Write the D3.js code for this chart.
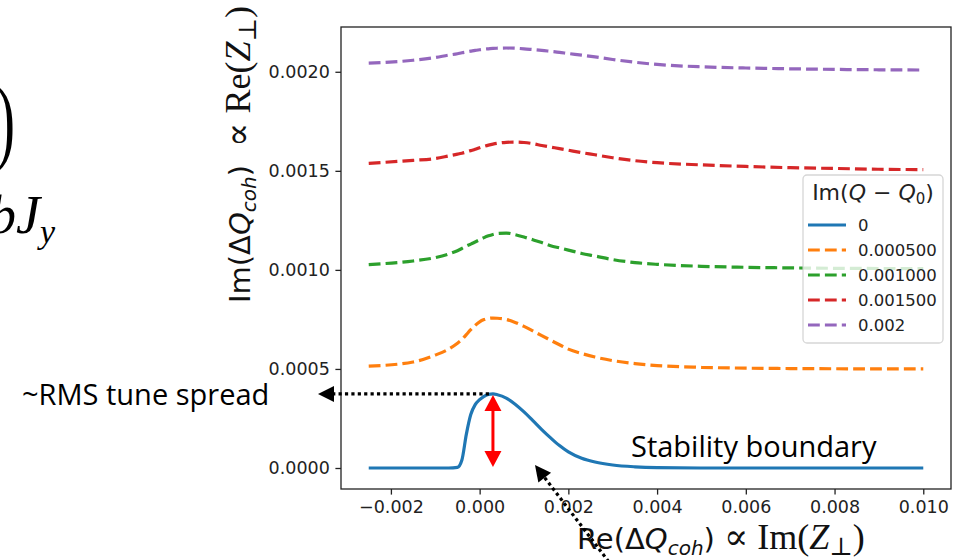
<!DOCTYPE html>
<html>
<head>
<meta charset="utf-8">
<script src="https://cdn.jsdelivr.net/npm/d3@7"></script>
<style>
  html, body { margin: 0; padding: 0; background: #fff; overflow: hidden; }
  svg { display: block; }
</style>
</head>
<body>
<svg id="chart" width="961" height="560"></svg>
<script>
// Re(ΔQ_coh) sample points shared by all curves
const reDQ = [-0.0025, -0.0015, -0.0010, -0.0007, -0.0005, -0.0004, -0.0003, -0.0002, -0.0001,
  0.0000, 0.0001, 0.0002, 0.0003, 0.0004, 0.0006, 0.0008, 0.0010, 0.0012, 0.0014, 0.0016,
  0.0018, 0.0020, 0.0023, 0.0026, 0.0030, 0.0035, 0.0040, 0.0050, 0.0060, 0.0070,
  0.0080, 0.0090, 0.0100];

// Im(ΔQ_coh) for each Im(Q - Q0)
const im0 = [0, 0, 0, 0, 0.000003, 0.00004, 0.00017, 0.00027, 0.00032,
  0.000345, 0.000362, 0.000372, 0.000374, 0.00037, 0.000353, 0.000322, 0.000283, 0.000239, 0.000194, 0.000152,
  0.000113, 0.000081, 0.000049, 0.00003, 0.000015, 0.000006, 0.000002, 0, 0, 0,
  0, 0, 0];
const im0005 = [0.000514, 0.000535, 0.00057, 0.0006, 0.00063, 0.000648, 0.000673, 0.000698, 0.00072,
  0.000738, 0.000749, 0.000755, 0.000757, 0.000756, 0.00075, 0.000735, 0.000715, 0.000692, 0.000668, 0.000645,
  0.000622, 0.0006, 0.000578, 0.00056, 0.000542, 0.000527, 0.000517, 0.000508, 0.000504, 0.000502,
  0.000501, 0.0005, 0.0005];
const im0010 = [0.001027, 0.001045, 0.001062, 0.00108, 0.001097, 0.001108, 0.00112, 0.00113, 0.001141,
  0.001152, 0.001163, 0.001172, 0.001179, 0.001184, 0.001186, 0.001178, 0.001166, 0.001152, 0.001138, 0.001122,
  0.001111, 0.0011, 0.001083, 0.00107, 0.001052, 0.001037, 0.001028, 0.001018, 0.001013, 0.00101,
  0.001008, 0.001007, 0.001006];
const im0015 = [0.001538, 0.001553, 0.001562, 0.001575, 0.001584, 0.001589, 0.001595, 0.001602, 0.001609,
  0.001617, 0.001624, 0.00163, 0.001635, 0.001639, 0.001644, 0.001645, 0.001643, 0.001637, 0.001628, 0.00162,
  0.001612, 0.001604, 0.001592, 0.001581, 0.001566, 0.001551, 0.001541, 0.00153, 0.001522, 0.001516,
  0.001512, 0.001508, 0.001506];
const im0020 = [0.002044, 0.002058, 0.002072, 0.002084, 0.002091, 0.002096, 0.0021, 0.002104, 0.002108,
  0.002111, 0.002114, 0.002116, 0.002118, 0.002119, 0.00212, 0.002119, 0.002116, 0.002112, 0.002108, 0.002103,
  0.002098, 0.002092, 0.002084, 0.002075, 0.002062, 0.002048, 0.002037, 0.002025, 0.002019, 0.002015,
  0.002012, 0.00201, 0.002009];

const seriesLabels = ["0", "0.000500", "0.001000", "0.001500", "0.002"];
const seriesValues = [im0, im0005, im0010, im0015, im0020];
const seriesColors = ["#1f77b4", "#ff7f0e", "#2ca02c", "#d62728", "#9467bd"];

const xTicks = [-0.002, 0.000, 0.002, 0.004, 0.006, 0.008, 0.010];
const yTicks = [0.0000, 0.0005, 0.0010, 0.0015, 0.0020];

const svg = d3.select("#chart");
const plot = { left: 341, right: 951, top: 27, bottom: 489 };

// autoscale with 5% margins, like the plotting default
const xExt = d3.extent(reDQ);
const xPad = (xExt[1] - xExt[0]) * 0.05;
const yMin = d3.min(seriesValues, s => d3.min(s));
const yMax = d3.max(seriesValues, s => d3.max(s));
const yPad = (yMax - yMin) * 0.05;

const x = d3.scaleLinear().domain([xExt[0] - xPad, xExt[1] + xPad]).range([plot.left, plot.right]);
const y = d3.scaleLinear().domain([yMin - yPad, yMax + yPad]).range([plot.bottom, plot.top]);

const tickFont = "'DejaVu Sans', sans-serif";
const minus = s => s.replace("-", "\u2212");

// curves
const line = d3.line().x(d => x(d[0])).y(d => y(d[1])).curve(d3.curveMonotoneX);
const curves = svg.append("g");
seriesValues.forEach((vals, i) => {
  curves.append("path")
    .datum(reDQ.map((r, j) => [r, vals[j]]))
    .attr("d", line)
    .attr("fill", "none")
    .attr("stroke", seriesColors[i])
    .attr("stroke-width", 3.2)
    .attr("stroke-dasharray", i === 0 ? null : "11.8,5.1");
});

// axes
const xAxis = d3.axisBottom(x).tickValues(xTicks).tickFormat(d => minus(d3.format(".3f")(d)))
  .tickSizeInner(5.6).tickSizeOuter(0).tickPadding(5.6);
const yAxis = d3.axisLeft(y).tickValues(yTicks).tickFormat(d => d3.format(".4f")(d))
  .tickSizeInner(5.6).tickSizeOuter(0).tickPadding(5.6);

const gx = svg.append("g").attr("transform", `translate(0,${plot.bottom})`).call(xAxis);
const gy = svg.append("g").attr("transform", `translate(${plot.left},0)`).call(yAxis);
[gx, gy].forEach(g => {
  g.select(".domain").remove();
  g.selectAll(".tick line").attr("stroke", "#222").attr("stroke-width", 1.3);
  g.selectAll(".tick text").attr("font-family", tickFont).attr("font-size", 17.5).attr("fill", "#222");
});

// frame
svg.append("rect")
  .attr("x", plot.left).attr("y", plot.top)
  .attr("width", plot.right - plot.left).attr("height", plot.bottom - plot.top)
  .attr("fill", "none").attr("stroke", "#222").attr("stroke-width", 1.3);

// legend
const lg = svg.append("g").attr("transform", "translate(803,175)");
lg.append("rect").attr("width", 140).attr("height", 168).attr("rx", 4)
  .attr("fill", "#fff").attr("fill-opacity", 0.8)
  .attr("stroke", "#ccc").attr("stroke-opacity", 0.8).attr("stroke-width", 1.3);
const lt = lg.append("text").attr("x", 70).attr("y", 25).attr("text-anchor", "middle")
  .attr("font-family", tickFont).attr("font-size", 22).attr("fill", "#222");
lt.append("tspan").text("Im(");
lt.append("tspan").attr("font-style", "italic").text("Q");
lt.append("tspan").text(" \u2212 ");
lt.append("tspan").attr("font-style", "italic").text("Q");
lt.append("tspan").attr("font-size", 15).attr("dy", 4).text("0");
lt.append("tspan").attr("dy", -4).text(")");

seriesLabels.forEach((lab, i) => {
  const yy = 50 + i * 25;
  lg.append("line").attr("x1", 5).attr("x2", 43).attr("y1", yy).attr("y2", yy)
    .attr("stroke", seriesColors[i]).attr("stroke-width", 3.2)
    .attr("stroke-dasharray", i === 0 ? null : "11.8,5.1");
  lg.append("text").attr("x", 55).attr("y", yy + 6)
    .attr("font-family", tickFont).attr("font-size", 16.5).attr("fill", "#222").text(lab);
});

// axis titles
const serif = "'Liberation Serif', 'DejaVu Serif', serif";
const yl = svg.append("text")
  .attr("transform", "translate(250,303) rotate(-90)")
  .attr("font-family", tickFont).attr("font-size", 29).attr("fill", "#111");
yl.append("tspan").text("Im(\u0394");
yl.append("tspan").attr("font-style", "italic").text("Q");
yl.append("tspan").attr("font-style", "italic").attr("font-size", 20).attr("dy", 6).text("coh");
yl.append("tspan").attr("dy", -6).text(")");
yl.append("tspan").attr("font-family", serif).attr("font-size", 36).text("\u2002\u221D Re(");
yl.append("tspan").attr("font-family", serif).attr("font-size", 36).attr("font-style", "italic").text("Z");
yl.append("tspan").attr("font-family", serif).attr("font-size", 25).attr("dy", 6).text("\u22A5");
yl.append("tspan").attr("font-family", serif).attr("font-size", 36).attr("dy", -6).text(")");

const xl = svg.append("text")
  .attr("x", 577).attr("y", 549)
  .attr("font-family", tickFont).attr("font-size", 29).attr("fill", "#111");
xl.append("tspan").text("Re(\u0394");
xl.append("tspan").attr("font-style", "italic").text("Q");
xl.append("tspan").attr("font-style", "italic").attr("font-size", 20).attr("dy", 6).text("coh");
xl.append("tspan").attr("dy", -6).text(")");
xl.append("tspan").attr("font-family", serif).attr("font-size", 36).text(" \u221D Im(");
xl.append("tspan").attr("font-family", serif).attr("font-size", 36).attr("font-style", "italic").text("Z");
xl.append("tspan").attr("font-family", serif).attr("font-size", 25).attr("dy", 6).text("\u22A5");
xl.append("tspan").attr("font-family", serif).attr("font-size", 36).attr("dy", -6).text(")");

// formula fragment at the left edge
svg.append("text").attr("transform", "translate(-4,152) scale(1.1,1.85)")
  .attr("font-family", serif).attr("font-size", 52).attr("fill", "#000").text(")");
const fm = svg.append("text").attr("x", -11).attr("y", 233)
  .attr("font-family", serif).attr("font-size", 54).attr("fill", "#000");
fm.append("tspan").attr("font-style", "italic").text("bJ");
fm.append("tspan").attr("font-style", "italic").attr("font-size", 34).attr("dy", 10).text("y");

// annotations
const annFont = "'Open Sans', 'Noto Sans', sans-serif";
svg.append("text").attr("x", 22).attr("y", 405)
  .attr("font-family", annFont).attr("font-size", 29).attr("fill", "#000").text("~RMS tune spread");
svg.append("text").attr("x", 631).attr("y", 457)
  .attr("font-family", annFont).attr("font-size", 29).attr("fill", "#000").text("Stability boundary");

// peak of the stability boundary
const peakIdx = d3.maxIndex(im0);
const px = x(reDQ[peakIdx]), py = y(im0[peakIdx]);
const y0 = y(0);

// horizontal dotted arrow to the spread label
const tipX = 318;
svg.append("line").attr("x1", px - 4).attr("x2", tipX + 15).attr("y1", py).attr("y2", py)
  .attr("stroke", "#000").attr("stroke-width", 3.2).attr("stroke-dasharray", "3.2,3.2");
svg.append("path").attr("d", `M${tipX},${py} L${tipX + 16},${py - 8} L${tipX + 16},${py + 8} Z`).attr("fill", "#000");

// red double arrow: height of the peak
const ra = svg.append("g").attr("fill", "#ff0000");
const rx = px;
svg.append("line").attr("x1", rx).attr("x2", rx).attr("y1", py + 12).attr("y2", y0 - 12)
  .attr("stroke", "#ff0000").attr("stroke-width", 3);
ra.append("path").attr("d", `M${rx},${py + 1} L${rx - 8.5},${py + 17} L${rx + 8.5},${py + 17} Z`);
ra.append("path").attr("d", `M${rx},${y0 - 1} L${rx - 8.5},${y0 - 17} L${rx + 8.5},${y0 - 17} Z`);

// diagonal dotted arrow from the x title toward the boundary
const t = [535, 465], tail = [612, 566];
const dx = tail[0] - t[0], dy = tail[1] - t[1], len = Math.hypot(dx, dy);
const ux = dx / len, uy = dy / len;
const bx = t[0] + ux * 16, by = t[1] + uy * 16;
svg.append("line").attr("x1", bx).attr("y1", by).attr("x2", tail[0]).attr("y2", tail[1])
  .attr("stroke", "#000").attr("stroke-width", 3.2).attr("stroke-dasharray", "3.2,3.2");
svg.append("path")
  .attr("d", `M${t[0]},${t[1]} L${bx - uy * 8},${by + ux * 8} L${bx + uy * 8},${by - ux * 8} Z`)
  .attr("fill", "#000");
</script>
</body>
</html>
